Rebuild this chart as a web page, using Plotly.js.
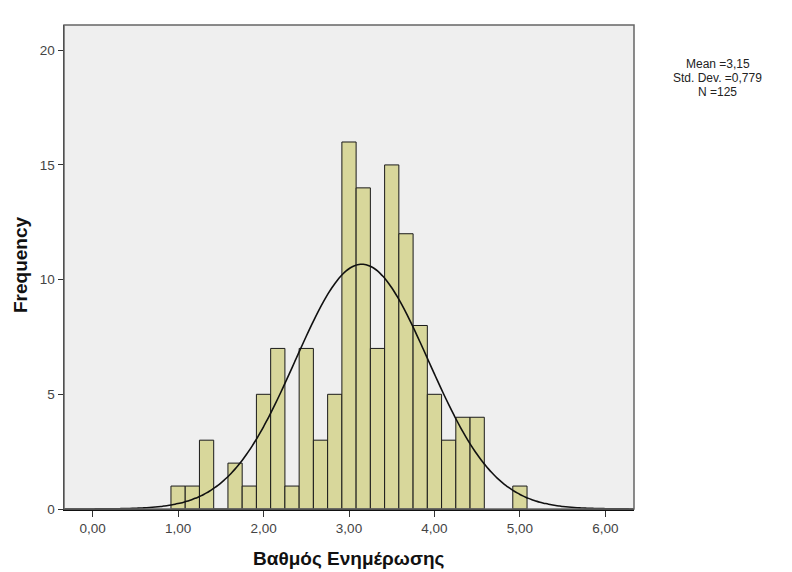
<!DOCTYPE html>
<html>
<head>
<meta charset="utf-8">
<script src="https://cdn.plot.ly/plotly-3.0.1.min.js"></script>
<style>html,body{margin:0;padding:0;background:#fff;}#chart{width:792px;height:572px;}</style>
</head>
<body>
<div id="chart"></div>
<script>
// Bin centres (width 1/6) and frequencies
const binCenters = [1.0, 1.1667, 1.3333, 1.5, 1.6667, 1.8333, 2.0, 2.1667, 2.3333, 2.5, 2.6667, 2.8333,
                    3.0, 3.1667, 3.3333, 3.5, 3.6667, 3.8333, 4.0, 4.1667, 4.3333, 4.5, 5.0];
const frequencies = [1, 1, 3, 0, 2, 1, 5, 7, 1, 7, 3, 5,
                     16, 14, 7, 15, 12, 8, 5, 3, 4, 4, 1];
const binWidth = 1/6;
// Summary statistics shown on the chart
const meanValue = 3.15;
const stdDev = 0.779;
const nCount = 125;
const statsText = ["Mean =3,15", "Std. Dev. =0,779", "N =125"];
// Axis ticks and titles
const xTickVals = [0, 1, 2, 3, 4, 5, 6];
const xTickText = ["0,00", "1,00", "2,00", "3,00", "4,00", "5,00", "6,00"];
const yTickVals = [0, 5, 10, 15, 20];
const yTickText = ["0", "5", "10", "15", "20"];
const xTitle = "Βαθμός Ενημέρωσης";
const yTitle = "Frequency";
const xRange = [-0.335, 6.335];
const yRange = [0, 21.1];

// Fitted normal curve from the stated mean / std. dev. / N
const curveX = [], curveY = [];
const steps = 200;
for (let i = 0; i <= steps; i++) {
  const x = xRange[0] + (xRange[1] - xRange[0]) * i / steps;
  const z = (x - meanValue) / stdDev;
  curveX.push(x);
  curveY.push(nCount * binWidth / (stdDev * Math.sqrt(2 * Math.PI)) * Math.exp(-0.5 * z * z));
}

const font = "Liberation Sans, Arial, sans-serif";
const data = [
  {
    type: "bar", x: binCenters, y: frequencies, width: binWidth,
    marker: {color: "#d8d79b", line: {color: "#1a1a1a", width: 1}},
    hoverinfo: "skip", showlegend: false
  },
  {
    type: "scatter", mode: "lines", x: curveX, y: curveY,
    line: {color: "#111", width: 1.6, shape: "spline"},
    hoverinfo: "skip", showlegend: false
  }
];

const statLines = statsText.map((t, i) => ({
  xref: "paper", yref: "paper", x: 1.147, y: (509 - (64 + 14 * i)) / 484,
  xanchor: "center", yanchor: "middle", text: t, showarrow: false, borderpad: 0,
  font: {family: font, size: 12, color: "#222"}
}));

const layout = {
  width: 792, height: 572,
  paper_bgcolor: "#ffffff", plot_bgcolor: "#efefef",
  margin: {l: 64, r: 158, t: 25, b: 63},
  font: {family: font, size: 13, color: "#333"},
  bargap: 0,
  xaxis: {
    range: xRange, tickvals: xTickVals, ticktext: xTickText,
    showgrid: false, zeroline: false,
    showline: true, linecolor: "#111", linewidth: 1.5,
    ticks: "outside", ticklen: 6, tickcolor: "#333", tickwidth: 1,
    tickfont: {family: font, size: 13.5, color: "#444"}
  },
  yaxis: {
    range: yRange, tickvals: yTickVals, ticktext: yTickText,
    showgrid: false, zeroline: false,
    showline: true, linecolor: "#111", linewidth: 1.5,
    ticks: "outside", ticklen: 5, tickcolor: "#333", tickwidth: 1,
    tickfont: {family: font, size: 13.5, color: "#444"}
  },
  shapes: [
    {type: "rect", xref: "paper", yref: "paper", x0: 0, x1: 1, y0: 0, y1: 1,
     line: {color: "#666", width: 1.5}, fillcolor: "rgba(0,0,0,0)", layer: "above"}
  ],
  annotations: statLines.concat([
    {xref: "paper", yref: "paper", x: (20 - 64) / 570, y: (509 - 265) / 484,
     xanchor: "center", yanchor: "middle", textangle: -90, text: yTitle, showarrow: false,
     font: {family: font, size: 19, color: "#111", weight: "bold"}},
    {xref: "paper", yref: "paper", x: 0.5, y: (509 - 558) / 484,
     xanchor: "center", yanchor: "middle", text: xTitle, showarrow: false,
     font: {family: font, size: 19, color: "#111", weight: "bold"}}
  ])
};

Plotly.newPlot("chart", data, layout, {displayModeBar: false, staticPlot: true});
</script>
</body>
</html>
